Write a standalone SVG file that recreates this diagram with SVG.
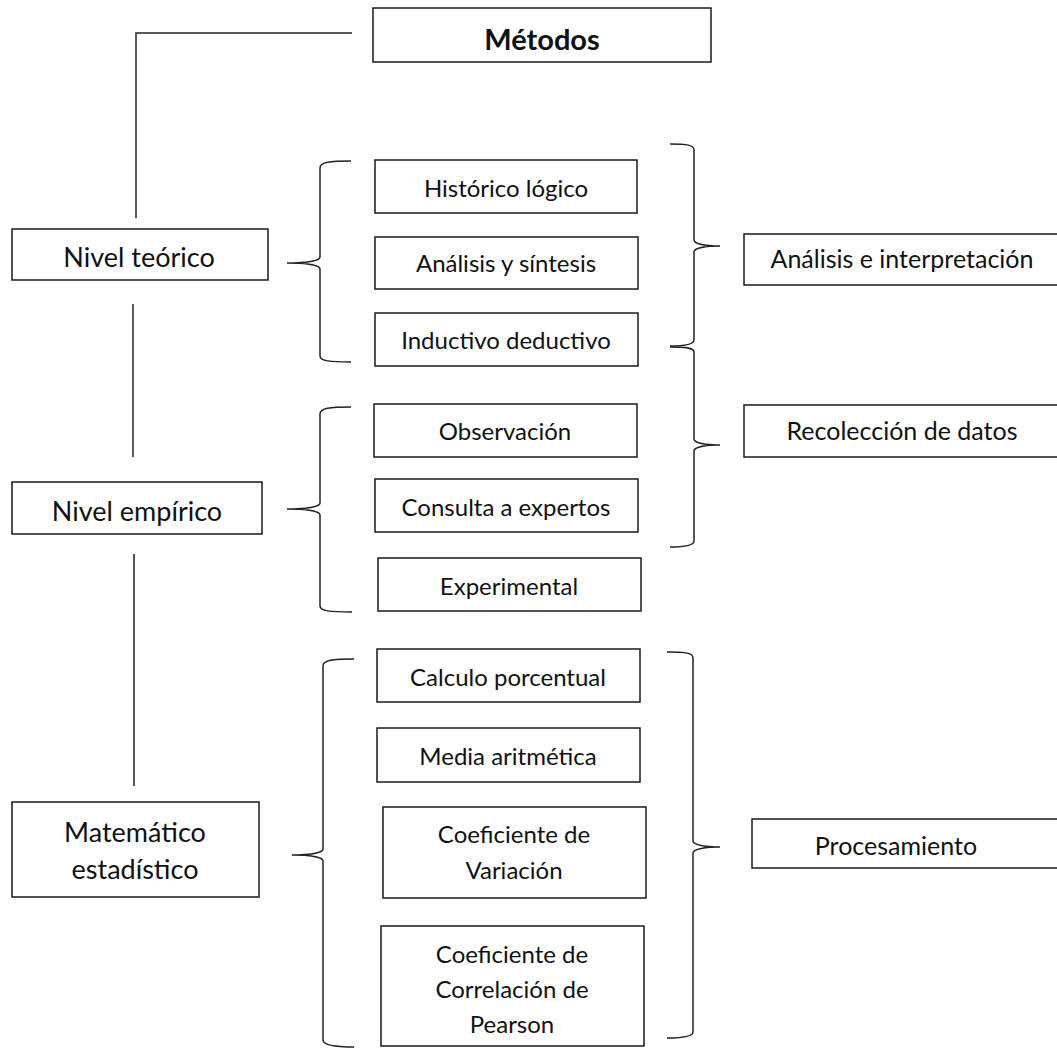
<svg xmlns="http://www.w3.org/2000/svg" width="1057" height="1048" viewBox="0 0 1057 1048">
<style>
.box{fill:#fff;stroke:#1a1a1a;stroke-width:1.5}
.t{font-family:Lato,"Open Sans",sans-serif;font-size:24px;fill:#111;text-anchor:middle}
.tl{font-size:27px}
.tr{font-size:25px}
.tb{font-weight:bold;font-size:29px}
.ln{fill:none;stroke:#222;stroke-width:1.5}
</style>
<rect width="1057" height="1048" fill="#fff"/>
<g id="connectors">
<path class="ln" d="M352,33 H136 V218"/>
<path class="ln" d="M133,304 V457"/>
<path class="ln" d="M134,554 V786"/>
<path class="ln" d="M351,161 C330,161 320,162 320,168 L320,257 C320,261 306,263 287,263 C306,263 320,265 320,269 L320,356 C320,361 330,362 351,362"/>
<path class="ln" d="M351,407 C330,407 320,408 320,414 L320,503 C320,507 306,509 287,509 C306,509 320,511 320,515 L320,606 C320,611 330,612 352,612"/>
<path class="ln" d="M354,659 C333,659 323,660 323,666 L323,849 C323,853 309,855 292,855 C309,855 323,857 323,861 L323,1040 C323,1045 333,1047 354,1047"/>
<path class="ln" d="M670,144 C687,144 694,145 694,150 L694,240 C694,244 706,246 720,246 C706,246 694,248 694,252 L694,340 C694,344 687,346 670,346"/>
<path class="ln" d="M670,347 C687,347 694,348 694,352 L694,439 C694,443 706,445 720,445 C706,445 694,447 694,451 L694,541 C694,545 687,547 670,547"/>
<path class="ln" d="M667,652 C686,652 693,653 693,658 L693,841 C693,845 706,847 720,847 C706,847 693,849 693,853 L693,1032 C693,1036 686,1038 667,1038"/>
</g>
<g id="metodos"><rect class="box" x="373" y="8" width="338" height="54"/><text class="t tb" x="542" y="50">Métodos</text></g>
<g id="nivel-teorico"><rect class="box" x="12" y="229" width="256" height="51"/><text class="t tl" x="139" y="267">Nivel teórico</text></g>
<g id="nivel-empirico"><rect class="box" x="12" y="482" width="250" height="52"/><text class="t tl" x="137" y="521">Nivel empírico</text></g>
<g id="matematico"><rect class="box" x="12" y="802" width="247" height="95"/><text class="t tl" x="135" y="842">Matemático</text><text class="t tl" x="135" y="879">estadístico</text></g>
<g id="historico"><rect class="box" x="375" y="160" width="262" height="53"/><text class="t" x="506" y="197">Histórico lógico</text></g>
<g id="analisis-sintesis"><rect class="box" x="375" y="237" width="263" height="52"/><text class="t" x="506" y="272">Análisis y síntesis</text></g>
<g id="inductivo"><rect class="box" x="375" y="313" width="263" height="53"/><text class="t" x="506" y="349">Inductivo deductivo</text></g>
<g id="observacion"><rect class="box" x="374" y="404" width="263" height="53"/><text class="t" x="505" y="440">Observación</text></g>
<g id="consulta"><rect class="box" x="375" y="479" width="263" height="53"/><text class="t" x="506" y="516">Consulta a expertos</text></g>
<g id="experimental"><rect class="box" x="378" y="558" width="263" height="53"/><text class="t" x="509" y="595">Experimental</text></g>
<g id="calculo"><rect class="box" x="377" y="649" width="263" height="53"/><text class="t" x="508" y="686">Calculo porcentual</text></g>
<g id="media"><rect class="box" x="377" y="728" width="263" height="54"/><text class="t" x="508" y="765">Media aritmética</text></g>
<g id="coef-variacion"><rect class="box" x="383" y="807" width="263" height="91"/><text class="t" x="514" y="843">Coeficiente de</text><text class="t" x="514" y="879">Variación</text></g>
<g id="coef-pearson"><rect class="box" x="381" y="926" width="263" height="120"/><text class="t" x="512" y="963">Coeficiente de</text><text class="t" x="512" y="998">Correlación de</text><text class="t" x="512" y="1033">Pearson</text></g>
<g id="analisis-interpretacion"><rect class="box" x="744" y="234" width="326" height="51"/><text class="t tr" x="902" y="268">Análisis e interpretación</text></g>
<g id="recoleccion"><rect class="box" x="744" y="405" width="326" height="52"/><text class="t tr" x="902" y="440">Recolección de datos</text></g>
<g id="procesamiento"><rect class="box" x="752" y="819" width="318" height="49"/><text class="t tr" x="896" y="855">Procesamiento</text></g>
</svg>
